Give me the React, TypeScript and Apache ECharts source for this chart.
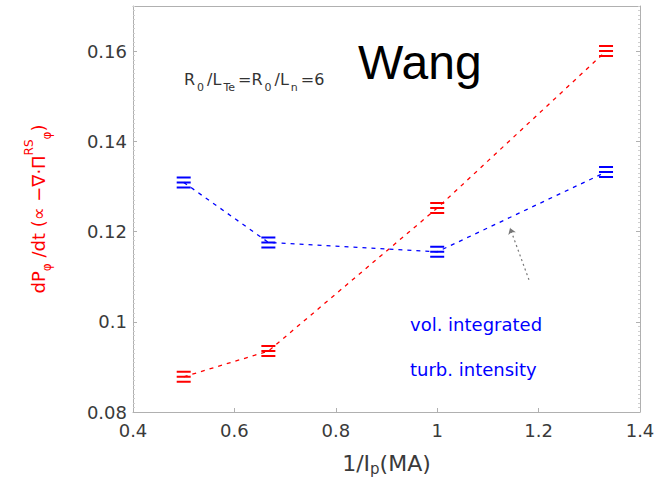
import React, { useEffect, useRef } from "react";
import * as echarts from "echarts";

// 1/I_p (MA)
const inverseCurrent = [0.5, 0.667, 1.0, 1.333];
// d<P_phi>/dt (red) and volume-integrated turbulence intensity (blue)
const momentumRate = [0.0878, 0.0935, 0.1252, 0.16];
const turbIntensity = [0.1309, 0.1176, 0.1155, 0.1332];
const xTicks = [0.4, 0.6, 0.8, 1, 1.2, 1.4];
const yTicks = [0.08, 0.1, 0.12, 0.14, 0.16];
// pointer from the labels to the blue curve, in data units
const pointerFrom = [1.181, 0.1093];
const pointerTo = [1.1436, 0.1208];

const TRIPLE_BAR = "path://M0,0H14V2H0Z M0,5H14V7H0Z M0,10H14V12H0Z";
const SANS = "DejaVu Sans";
const GRAY = "#3a3a3a";
const FRAME = "#b0b0b0";

export default function App() {
  const ref = useRef<HTMLDivElement>(null);

  useEffect(() => {
    if (!ref.current) return;
    const chart = echarts.init(ref.current, null, { renderer: "svg" });

    const yFmt = (v: number) => {
      const r = Math.round(v * 100) / 100;
      return yTicks.some((t) => Math.abs(t - r) < 1e-9) && Math.abs(v - r) < 1e-9 ? String(r) : "";
    };

    chart.setOption({
      animation: false,
      backgroundColor: "#ffffff",
      grid: { left: 133, right: 23, top: 6, bottom: 78, containLabel: false },
      xAxis: [
        {
          type: "value",
          min: xTicks[0],
          max: xTicks[xTicks.length - 1],
          interval: 0.2,
          position: "bottom",
          axisLine: { show: true, lineStyle: { color: FRAME, width: 1 } },
          axisTick: { show: true, inside: true, length: 4, lineStyle: { color: FRAME } },
          axisLabel: { color: GRAY, fontFamily: SANS, fontSize: 18, margin: 9 },
          splitLine: { show: false },
          name: "{m|1/I}{s|p}{m|(MA)}",
          nameLocation: "middle",
          nameGap: 40,
          nameTextStyle: {
            rich: {
              m: { fontFamily: SANS, fontSize: 22, color: GRAY, lineHeight: 24, verticalAlign: "top" },
              s: { fontFamily: SANS, fontSize: 15, color: GRAY, lineHeight: 15, verticalAlign: "bottom", padding: [18, 0, 0, 0] },
            },
          },
        },
        {
          type: "value",
          min: xTicks[0],
          max: xTicks[xTicks.length - 1],
          position: "top",
          axisLine: { show: true, lineStyle: { color: FRAME, width: 1 } },
          axisTick: { show: false },
          axisLabel: { show: false },
          splitLine: { show: false },
        },
      ],
      yAxis: [
        {
          type: "value",
          min: 0.08,
          max: 0.17,
          interval: 0.02,
          position: "left",
          axisLine: { show: true, lineStyle: { color: FRAME, width: 1 } },
          axisTick: { show: true, inside: true, length: 4, lineStyle: { color: FRAME } },
          minorTick: { show: true, splitNumber: 20, length: 2, lineStyle: { color: "#cfcfcf" } },
          axisLabel: { color: GRAY, fontFamily: SANS, fontSize: 18, margin: 6, formatter: yFmt },
          splitLine: { show: false },
          name: "{m|dP}{s|φ}{m| /dt (∝ −∇·Π}{p|RS}{s|φ}{m|)}",
          nameLocation: "middle",
          nameRotate: 90,
          nameGap: 80,
          nameTextStyle: {
            rich: {
              m: { fontFamily: SANS, fontSize: 18, color: "#ff0000", lineHeight: 30, verticalAlign: "middle" },
              s: { fontFamily: SANS, fontSize: 12, color: "#ff0000", lineHeight: 30, verticalAlign: "bottom" },
              p: { fontFamily: SANS, fontSize: 12, color: "#ff0000", lineHeight: 30, verticalAlign: "top" },
            },
          },
        },
        {
          type: "value",
          min: 0.08,
          max: 0.17,
          interval: 0.02,
          position: "right",
          axisLine: { show: true, lineStyle: { color: FRAME, width: 1 } },
          axisTick: { show: true, inside: true, length: 4, lineStyle: { color: FRAME } },
          minorTick: { show: true, splitNumber: 20, length: 2, lineStyle: { color: "#cfcfcf" } },
          axisLabel: { show: false },
          splitLine: { show: false },
        },
      ],
      series: [
        {
          name: "dP/dt",
          type: "line",
          data: inverseCurrent.map((x, i) => [x, momentumRate[i]]),
          symbol: TRIPLE_BAR,
          symbolSize: [14, 12],
          itemStyle: { color: "#ff0000" },
          lineStyle: { color: "#ff0000", width: 1.3, type: [4, 5] },
          z: 3,
        },
        {
          name: "turb. intensity",
          type: "line",
          data: inverseCurrent.map((x, i) => [x, turbIntensity[i]]),
          symbol: TRIPLE_BAR,
          symbolSize: [14, 12],
          itemStyle: { color: "#0000ff" },
          lineStyle: { color: "#0000ff", width: 1.3, type: [4, 5] },
          z: 3,
          markLine: {
            silent: true,
            symbol: ["none", "arrow"],
            symbolSize: 6,
            label: { show: false },
            lineStyle: { color: "#777777", width: 1.2, type: [2, 3] },
            data: [[{ coord: pointerFrom }, { coord: pointerTo }]],
          },
        },
      ],
      graphic: [
        {
          type: "text",
          left: 358,
          top: 38,
          style: {
            text: "Wang",
            fontFamily: "Liberation Sans",
            fontSize: 48,
            fill: "#000000",
          },
        },
        {
          type: "text",
          left: 183,
          top: 71,
          style: {
            text: "{m|R}{s|0}{m|/L}{s|Te}{m|=R}{s|0}{m|/L}{s|n}{m|=6}",
            rich: {
              m: { fontFamily: SANS, fontSize: 16, fill: "#333333", lineHeight: 22, verticalAlign: "top", padding: [0, 1, 0, 1] },
              s: { fontFamily: SANS, fontSize: 11, fill: "#333333", lineHeight: 22, verticalAlign: "bottom", padding: [0, 2, 0, 1] },
            },
          },
        },
        {
          type: "text",
          left: 410,
          top: 315,
          style: {
            text: "vol. integrated",
            fontFamily: SANS,
            fontSize: 18,
            fill: "#0000ff",
          },
        },
        {
          type: "text",
          left: 410,
          top: 360,
          style: {
            text: "turb. intensity",
            fontFamily: SANS,
            fontSize: 18,
            fill: "#0000ff",
          },
        },
      ],
    });

    return () => chart.dispose();
  }, []);

  return (
    <div
      ref={ref}
      style={{ position: "fixed", left: 0, top: 0, width: 663, height: 490, background: "#fff" }}
    />
  );
}
